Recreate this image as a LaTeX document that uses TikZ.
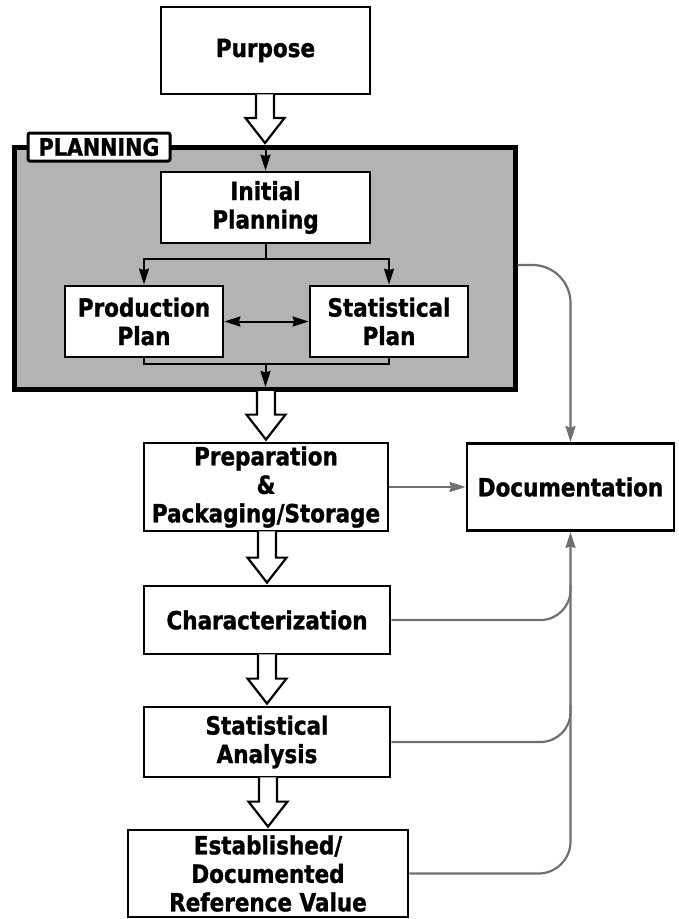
\documentclass[tikz,border=0pt]{standalone}
\usepackage{fontspec}
\setmainfont{DejaVu Sans}[FakeStretch=0.86, BoldFeatures={FakeBold=1.2}]
\usetikzlibrary{arrows.meta,calc}
\definecolor{gline}{RGB}{112,112,112}
\definecolor{planfill}{RGB}{179,179,179}
\newcommand{\fatarrow}[2]{%
  \draw[fat] let \p1=(#1.south), \p2=(#2.north) in
    (\x2-9pt,\y1+1pt) -- (\x2-9pt,\y2+27pt) -- (\x2-19.5pt,\y2+27pt) -- (\x2,\y2+2pt)
    -- (\x2+19.5pt,\y2+27pt) -- (\x2+9pt,\y2+27pt) -- (\x2+9pt,\y1+1pt);}
\begin{document}
\begin{tikzpicture}[x=1pt,y=1pt,
  box/.style={draw, line width=2.8pt, fill=white, align=center, inner sep=0pt,
    font=\fontsize{25}{28.5}\selectfont\bfseries},
  frame/.style={draw, line width=5pt, fill=planfill, inner sep=0pt},
  tag/.style={draw, line width=3pt, fill=white, rounded corners=2pt, inner sep=0pt,
    font=\fontsize{24}{25}\selectfont\bfseries},
  arr/.style={line width=2pt, -{Stealth[length=16pt,width=10pt,inset=1.5pt]}},
  darr/.style={line width=2pt, {Stealth[length=16pt,width=10pt,inset=1.5pt]}-{Stealth[length=16pt,width=10pt,inset=1.5pt]}},
  blk/.style={line width=2pt},
  garr/.style={draw=gline, line width=2.2pt, -{Stealth[length=16pt,width=10pt,inset=1.5pt]}},
  gl/.style={draw=gline, line width=2.2pt},
  fat/.style={draw=black, fill=white, line width=2.2pt, line join=miter}]
\useasboundingbox (0,0) rectangle (679,-919);

% nodes
\node[box, minimum width=209, minimum height=87] (purpose) at (265.5,-50.5) {Purpose};
\node[frame, minimum width=501, minimum height=242] (plan) at (265,-268.5) {};
\node[tag, minimum width=142, minimum height=28] (ptag) at (99,-147) {PLANNING};
\node[box, minimum width=209, minimum height=71] (init) at (265.5,-207.5) {Initial\\Planning};
\node[box, minimum width=158, minimum height=71] (prod) at (144,-321.5) {Production\\Plan};
\node[box, minimum width=158, minimum height=71] (stat) at (389,-321.5) {Statistical\\Plan};
\node[box, minimum width=244, minimum height=88] (prep) at (266,-487) {Preparation\\\&\\Packaging/Storage};
\node[box, minimum width=207, minimum height=87] (doc) at (570.5,-487) {Documentation};
\node[box, minimum width=246, minimum height=68] (char) at (267,-620) {Characterization};
\node[box, minimum width=246, minimum height=70] (sa) at (267,-742) {Statistical\\Analysis};
\node[box, minimum width=280, minimum height=87] (est) at (268,-873.5) {Established/\\Documented\\Reference Value};

% coordinates
\coordinate (sp) at (265.5,-259);
\coordinate (mg) at (265.5,-364);
\coordinate (mgend) at (265.5,-387);
\coordinate (pr) at (517.5,-265);
\coordinate (jc) at (570.5,-585);
\coordinate (js) at (570.5,-705);

% planning internals
\draw[arr] (init.north |- plan.north) -- (init.north);
\draw[blk] (init.south) -- (sp);
\draw[arr] (sp) -| (prod.north);
\draw[arr] (sp) -| (stat.north);
\draw[blk] (prod.south) |- (mg);
\draw[blk] (stat.south) |- (mg);
\draw[arr] (mg) -- (mgend);
\draw[darr] (prod.east) -- (stat.west);

% fat arrows
\fatarrow{purpose}{plan}
\fatarrow{plan}{prep}
\fatarrow{prep}{char}
\fatarrow{char}{sa}
\fatarrow{sa}{est}

% documentation links
\draw[garr, rounded corners=38pt] (pr) -| (doc.north);
\draw[garr] (prep.east) -- (doc.west);
\draw[gl, rounded corners=30pt] (char.east) -| (jc);
\draw[gl, rounded corners=30pt] (sa.east) -| (js);
\draw[garr, rounded corners=32pt] (est.east) -| (doc.south);
\end{tikzpicture}
\end{document}
